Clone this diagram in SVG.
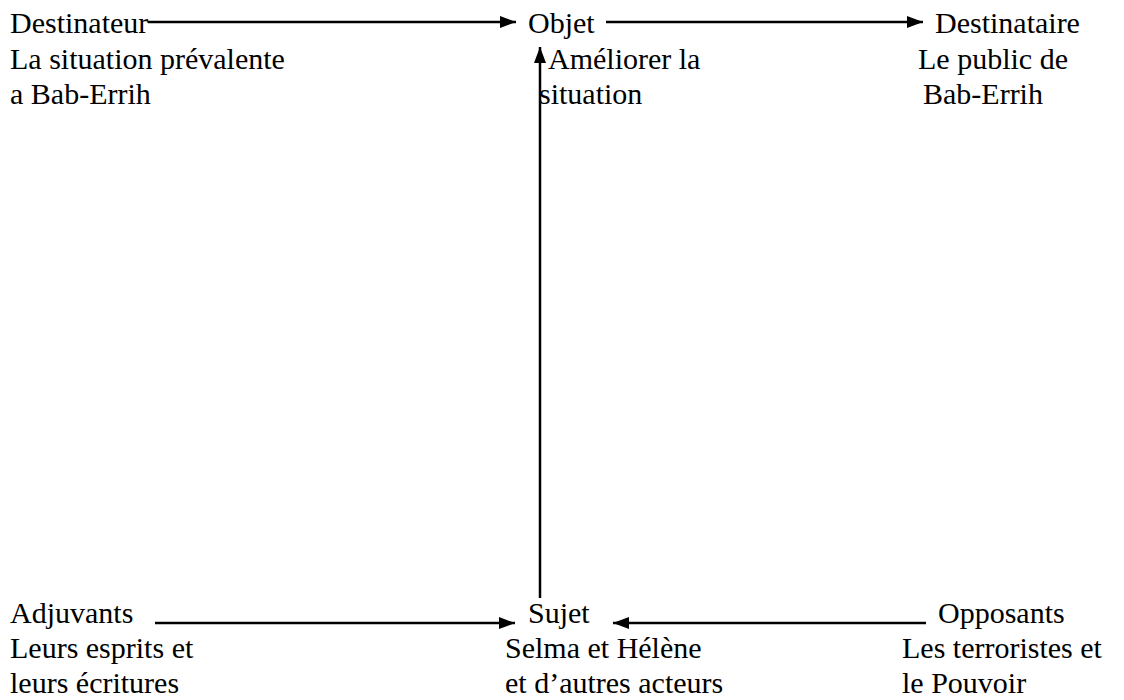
<svg xmlns="http://www.w3.org/2000/svg" width="1124" height="700" viewBox="0 0 1124 700">
  <style>
    text { font-family: "Liberation Serif", "Times New Roman", serif; font-size: 30px; fill: #000; }
    .conn line { stroke: #000; stroke-width: 2.5; fill: none; }
  </style>
  <defs>
    <marker id="arrow" viewBox="0 0 16 12" refX="16" refY="6" markerWidth="16" markerHeight="12" markerUnits="userSpaceOnUse" orient="auto">
      <path d="M0,0 L16,6 L0,12 Z" fill="#000"/>
    </marker>
  </defs>
  <rect width="1124" height="700" fill="#fff"/>

  <!-- connectors of the actantial model -->
  <g id="connectors" class="conn">
    <line x1="148" y1="22" x2="516" y2="22" marker-end="url(#arrow)"/>
    <line x1="606" y1="22" x2="923" y2="22" marker-end="url(#arrow)"/>
    <line x1="540" y1="598" x2="540" y2="47" marker-end="url(#arrow)"/>
    <line x1="155" y1="623" x2="515" y2="623" marker-end="url(#arrow)"/>
    <line x1="926" y1="623" x2="613" y2="623" marker-end="url(#arrow)"/>
  </g>

  <g id="destinateur">
    <text x="10" y="33">Destinateur</text>
    <text x="10" y="69">La situation prévalente</text>
    <text x="10" y="104">a Bab-Errih</text>
  </g>

  <g id="objet">
    <text x="528" y="33">Objet</text>
    <text x="548" y="69">Améliorer la</text>
    <text x="539" y="104">situation</text>
  </g>

  <g id="destinataire">
    <text x="935" y="33">Destinataire</text>
    <text x="918" y="69">Le public de</text>
    <text x="923" y="104">Bab-Errih</text>
  </g>

  <g id="adjuvants">
    <text x="10" y="623">Adjuvants</text>
    <text x="10" y="658">Leurs esprits et</text>
    <text x="10" y="693">leurs écritures</text>
  </g>

  <g id="sujet">
    <text x="528" y="623">Sujet</text>
    <text x="505" y="658">Selma et Hélène</text>
    <text x="505" y="693">et d’autres acteurs</text>
  </g>

  <g id="opposants">
    <text x="938" y="623">Opposants</text>
    <text x="902" y="658">Les terroristes et</text>
    <text x="902" y="693">le Pouvoir</text>
  </g>
</svg>
